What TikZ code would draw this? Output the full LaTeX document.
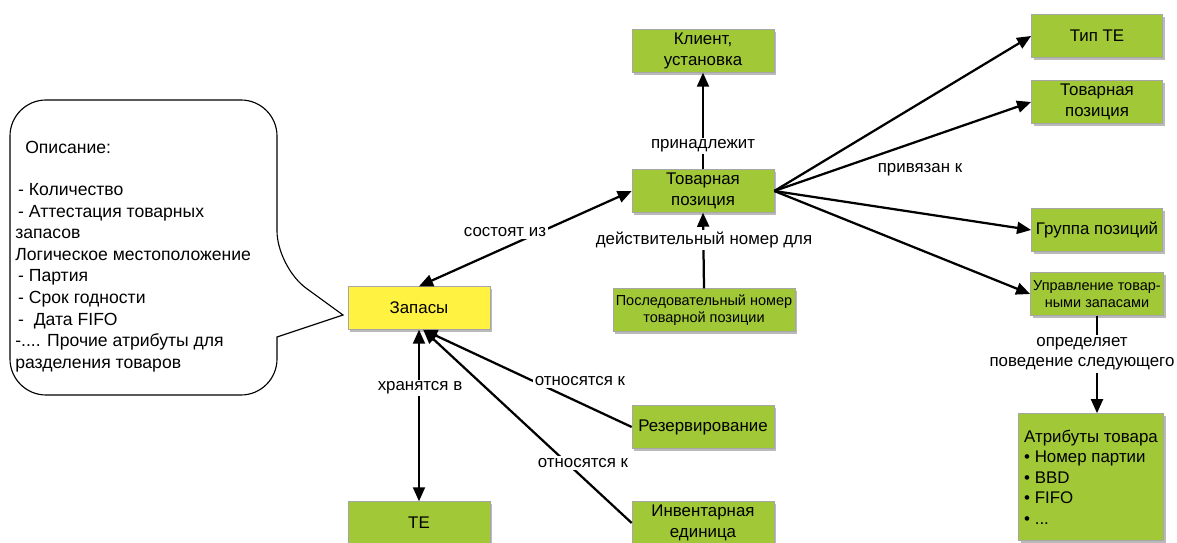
\documentclass[tikz,border=0pt]{standalone}
\usepackage{fontspec}
\setmainfont{Liberation Sans}
\usetikzlibrary{arrows.meta,shadows}
\definecolor{boxgreen}{RGB}{160,200,55}
\definecolor{boxyellow}{RGB}{255,242,65}

\begin{document}
\begin{tikzpicture}[x=0.025cm,y=-0.025cm,
    box/.style={draw=black!35, fill=boxgreen, minimum width=3.55cm, minimum height=1.07cm, align=center, inner sep=2pt,
      font=\fontsize{12}{14.5}\selectfont,
      drop shadow={shadow xshift=1.5pt, shadow yshift=-1.5pt, fill=black!45, opacity=.6}},
    lbl/.style={fill=white, inner sep=1.5pt, align=center, font=\fontsize{12}{14.5}\selectfont},
    link/.style={line width=1.6pt, -{Triangle[length=10pt,width=8.5pt]}},
    twolink/.style={line width=1.6pt, {Triangle[length=10pt,width=8.5pt]}-{Triangle[length=10pt,width=8.5pt]}}]
  \useasboundingbox (0,0) rectangle (1177,543);
  \draw[line width=0.8pt] (150,395) [rounded corners=0.9cm] -- (10,395) -- (10,100) -- (277,100) -- (277,267)
       [sharp corners] -- (343,315) -- (277,337) [rounded corners=0.9cm] -- (277,395) -- (150,395);
  \node[anchor=north west, inner sep=0pt, font=\fontsize{12.5}{15}\selectfont] (desctitle) at (25,141) {Описание:};
  \node[anchor=north west, inner sep=0pt, align=left, font=\fontsize{12.5}{15.4}\selectfont] (desclist) at (15,183)
       {\,- Количество\\ \,- Аттестация товарных\\ запасов\\ Логическое местоположение\\ \,- Партия\\ \,- Срок годности\\ \,-\ \ Дата FIFO\\ -.... Прочие атрибуты для\\ разделения товаров};
  \node[box, fill=boxyellow] (stock) at (419,308) {Запасы};
  \node[box] (client) at (703,51) {Клиент,\\установка};
  \node[box] (item) at (703,191) {Товарная\\позиция};
  \node[box, minimum width=4.3cm, font=\fontsize{10.3}{12.3}\selectfont] (serial) at (704,310) {Последовательный номер\\товарной позиции};
  \node[box, minimum width=3.28cm] (hutype) at (1097,36) {Тип ТЕ};
  \node[box, minimum width=3.28cm] (item2) at (1097,102) {Товарная\\позиция};
  \node[box, minimum width=3.28cm] (group) at (1097,230) {Группа позиций};
  \node[box, minimum width=3.28cm, font=\fontsize{10.3}{12.3}\selectfont] (mgmt) at (1097,294) {Управление товар-\\ными запасами};
  \node[box, minimum width=3.625cm, minimum height=3.175cm, align=left,
        font=\fontsize{12}{14.6}\selectfont] (attr) at (1091,477)
       {Атрибуты товара\\• Номер партии\\• BBD\\• FIFO\\• ...};
  \node[box] (hu) at (419,523) {ТЕ};
  \node[box] (reserve) at (703,427) {Резервирование};
  \node[box] (invent) at (703,523) {Инвентарная\\единица};
  \draw[twolink] (stock.north) -- (item.west);
  \draw[twolink] (stock.south) -- (hu.north);
  \draw[link] (reserve.west) -- ([xshift=3pt]stock.south);
  \draw[link] (invent.west) -- ([xshift=3pt]stock.south);
  \draw[link] (item.north) -- (client.south);
  \draw[link] (serial.north) -- (item.south);
  \foreach \t in {hutype,item2,group,mgmt}
    \draw[link] (item.east) -- (\t.west);
  \draw[link] (mgmt.south) -- (mgmt.south |- attr.north);
  \node[lbl] (lowns) at (703,146) {принадлежит};
  \node[lbl] (lconsist) at (505,232) {состоят из};
  \node[lbl] (lvalid) at (704,240) {действительный номер для};
  \node[lbl, fill=none] (lbound) at (920,170) {привязан к};
  \node[lbl] (ldefines) at (1082,354) {определяет\\поведение следующего};
  \node[lbl] (lstored) at (420,388) {хранятся в};
  \node[lbl] (lrel1) at (580,381) {относятся к};
  \node[lbl] (lrel2) at (583,463) {относятся к};
\end{tikzpicture}
\end{document}
